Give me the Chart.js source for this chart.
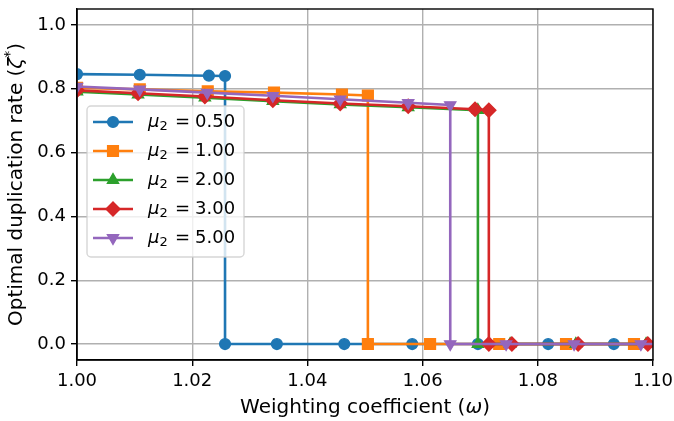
<!DOCTYPE html>
<html><head><meta charset="utf-8">
<script src="https://cdn.jsdelivr.net/npm/chart.js@4.4.0/dist/chart.umd.min.js"></script>
<style>html,body{margin:0;padding:0;background:#fff;} #wrap{width:674px;height:421px;position:relative;}</style>
</head><body><div id="wrap"><canvas id="c"></canvas></div>
<script>
// ---- data ----
const xTicks = [1.00, 1.02, 1.04, 1.06, 1.08, 1.10];
const yTicks = [0.0, 0.2, 0.4, 0.6, 0.8, 1.0];
const muLabels = ['0.50', '1.00', '2.00', '3.00', '5.00'];

const xMu050 = [1.0000, 1.0109, 1.0229, 1.0257, 1.0257, 1.0347, 1.0464, 1.0582, 1.0696, 1.0818, 1.0932, 1.1000];
const yMu050 = [0.846, 0.844, 0.841, 0.840, 0, 0, 0, 0, 0, 0, 0, 0];

const xMu100 = [1.0000, 1.0109, 1.0227, 1.0342, 1.0460, 1.0505, 1.0505, 1.0613, 1.0733, 1.0849, 1.0967, 1.1000];
const yMu100 = [0.803, 0.798, 0.792, 0.788, 0.782, 0.779, 0, 0, 0, 0, 0, 0];

const xMu200 = [1.0000, 1.0106, 1.0222, 1.0340, 1.0457, 1.0575, 1.0696, 1.0696, 1.0752, 1.0866, 1.0988, 1.1000];
const yMu200 = [0.791, 0.782, 0.772, 0.761, 0.751, 0.742, 0.733, 0, 0, 0, 0, 0];

const xMu300 = [1.0000, 1.0106, 1.0222, 1.0340, 1.0457, 1.0575, 1.0691, 1.0715, 1.0715, 1.0755, 1.0870, 1.0991, 1.1000];
const yMu300 = [0.795, 0.786, 0.776, 0.764, 0.754, 0.745, 0.736, 0.733, 0, 0, 0, 0, 0];

const xMu500 = [1.0000, 1.0109, 1.0226, 1.0340, 1.0457, 1.0575, 1.0648, 1.0648, 1.0745, 1.0863, 1.0979, 1.1000];
const yMu500 = [0.807, 0.798, 0.788, 0.778, 0.767, 0.756, 0.749, 0, 0, 0, 0, 0];

// ---- styles ----
const FONT = "'DejaVu Sans', 'Liberation Sans', sans-serif";
const styles = [
  {color: '#1f77b4', pt: 'circle', r: 5.4, rot: 0},
  {color: '#ff7f0e', pt: 'rect', r: 7.6, rot: 0},
  {color: '#2ca02c', pt: 'triangle', r: 6.4, rot: 0},
  {color: '#d62728', pt: 'rectRot', r: 7.0, rot: 0},
  {color: '#9467bd', pt: 'triangle', r: 6.4, rot: 180}
];
const seriesX = [xMu050, xMu100, xMu200, xMu300, xMu500];
const seriesY = [yMu050, yMu100, yMu200, yMu300, yMu500];

const datasets = seriesX.map((xs, i) => {
  const s = styles[i];
  const n = xs.length;
  return {
    label: 'μ2 = ' + muLabels[i],
    data: xs.map((x, j) => ({x: x, y: seriesY[i][j]})),
    borderColor: s.color,
    backgroundColor: s.color,
    borderWidth: 2.6,
    tension: 0,
    pointStyle: s.pt,
    pointRotation: s.rot,
    pointRadius: ctx => (ctx.dataIndex === n - 1 ? 0 : s.r),
    pointHoverRadius: ctx => (ctx.dataIndex === n - 1 ? 0 : s.r),
    pointBorderWidth: 1.4,
    pointBorderColor: s.color,
    pointBackgroundColor: s.color,
    clip: 0,
    order: 5 - i
  };
});

const frame = {
  id: 'frame',
  afterDatasetsDraw(chart) {
    const a = chart.chartArea, ctx = chart.ctx;
    ctx.save();
    ctx.strokeStyle = '#000';
    ctx.lineWidth = 1.4;
    ctx.strokeRect(a.left, a.top, a.right - a.left, a.bottom - a.top);
    ctx.restore();
  }
};

function drawSegments(ctx, segs, x, y, align) {
  let total = 0;
  segs.forEach(s => { ctx.font = s.font; s.w = ctx.measureText(s.t).width; total += s.w; });
  let cx = align === 'center' ? x - total / 2 : x;
  segs.forEach(s => {
    ctx.font = s.font;
    ctx.fillText(s.t, cx, y + (s.dy || 0));
    cx += s.w;
  });
}

const titles = {
  id: 'titles',
  afterDraw(chart) {
    const a = chart.chartArea, ctx = chart.ctx;
    ctx.save();
    ctx.fillStyle = '#000';
    ctx.textBaseline = 'middle';
    ctx.textAlign = 'left';
    drawSegments(ctx, [
      {t: 'Weighting coefficient (', font: '20px ' + FONT},
      {t: 'ω', font: 'italic 20px ' + FONT},
      {t: ')', font: '20px ' + FONT}
    ], (a.left + a.right) / 2, 408, 'center');
    ctx.translate(17, (a.top + a.bottom) / 2);
    ctx.rotate(-Math.PI / 2);
    drawSegments(ctx, [
      {t: 'Optimal duplication rate (', font: '20px ' + FONT},
      {t: 'ζ', font: 'italic 20px ' + FONT},
      {t: '*', font: '14px ' + FONT, dy: -7},
      {t: ')', font: '20px ' + FONT}
    ], 0, 0, 'center');
    ctx.restore();
  }
};

const legendBox = {
  id: 'legendBox',
  afterDraw(chart) {
    const ctx = chart.ctx;
    const bx = 87, by = 106, bw = 157, bh = 151, rad = 4;
    ctx.save();
    ctx.beginPath();
    ctx.moveTo(bx + rad, by);
    ctx.arcTo(bx + bw, by, bx + bw, by + bh, rad);
    ctx.arcTo(bx + bw, by + bh, bx, by + bh, rad);
    ctx.arcTo(bx, by + bh, bx, by, rad);
    ctx.arcTo(bx, by, bx + bw, by, rad);
    ctx.closePath();
    ctx.fillStyle = 'rgba(255,255,255,0.8)';
    ctx.fill();
    ctx.strokeStyle = 'rgba(204,204,204,0.8)';
    ctx.lineWidth = 1.4;
    ctx.stroke();
    chart.data.datasets.forEach((ds, i) => {
      const s = styles[i];
      const yc = 122 + i * 29;
      ctx.strokeStyle = s.color;
      ctx.lineWidth = 2.6;
      ctx.beginPath();
      ctx.moveTo(93, yc);
      ctx.lineTo(133, yc);
      ctx.stroke();
      ctx.fillStyle = s.color;
      ctx.lineWidth = 1.4;
      Chart.helpers.drawPoint(ctx, {pointStyle: s.pt, radius: s.r, rotation: s.rot, borderWidth: 1.4}, 113, yc);
      ctx.fillStyle = '#000';
      ctx.textBaseline = 'middle';
      ctx.textAlign = 'left';
      const tx = 148;
      ctx.font = 'italic 18px ' + FONT;
      ctx.fillText('μ', tx, yc);
      const mw = ctx.measureText('μ').width;
      ctx.font = '13px ' + FONT;
      ctx.fillText('2', tx + mw, yc + 5);
      ctx.font = '18px ' + FONT;
      ctx.fillText('=', tx + 27, yc);
      ctx.fillText(muLabels[i], tx + 47, yc);
    });
    ctx.restore();
  }
};

new Chart(document.getElementById('c'), {
  type: 'line',
  data: {datasets: datasets},
  options: {
    responsive: true,
    maintainAspectRatio: false,
    animation: false,
    devicePixelRatio: 1,
    layout: {padding: {top: 3, right: 21, left: 0, bottom: 0}},
    plugins: {legend: {display: false}, tooltip: {enabled: false}, title: {display: false}},
    scales: {
      x: {
        type: 'linear',
        min: 1.0, max: 1.1,
        afterBuildTicks: s => { s.ticks = xTicks.map(v => ({value: v})); },
        afterFit: s => { s.height = 61; s.paddingLeft = 0; s.paddingRight = 0; },
        ticks: {callback: v => Number(v).toFixed(2), color: '#000', font: {family: FONT, size: 18}, padding: 5, maxRotation: 0, autoSkip: false},
        grid: {color: '#b0b0b0', lineWidth: 1.4, tickLength: 6, tickColor: '#000', tickWidth: 1.4},
        border: {color: '#000', width: 1.4}
      },
      y: {
        type: 'linear',
        min: -0.05, max: 1.05,
        afterBuildTicks: s => { s.ticks = yTicks.map(v => ({value: v})); },
        afterFit: s => { s.width = 77; s.paddingTop = 0; s.paddingBottom = 0; },
        ticks: {callback: v => Number(v).toFixed(1), color: '#000', font: {family: FONT, size: 18}, padding: 5, autoSkip: false},
        grid: {color: '#b0b0b0', lineWidth: 1.4, tickLength: 6, tickColor: '#000', tickWidth: 1.4},
        border: {color: '#000', width: 1.4}
      }
    }
  },
  plugins: [frame, titles, legendBox]
});
</script>
</body></html>
